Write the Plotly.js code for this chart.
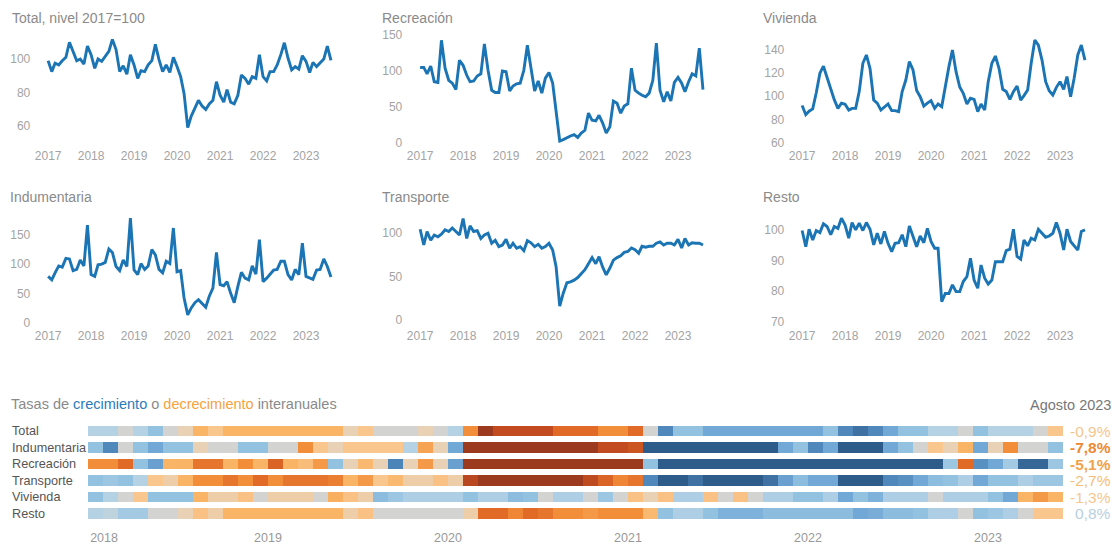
<!DOCTYPE html>
<html><head><meta charset="utf-8">
<script src="https://cdn.plot.ly/plotly-3.0.1.min.js"></script>
<style>html,body{margin:0;padding:0;background:#fff;}#chart{width:1112px;height:545px;}</style>
</head><body><div id="chart"></div>
<script>
// ---------- Monthly index series, Jan 2017 - Aug 2023 (nivel 2017=100) ----------
const total = [99,92.5,97.5,96.5,99,101,110,104,99,100,97,107.7,102.6,94.5,100,98.6,101.6,104.6,111.7,105.6,92.5,96,91,102.6,96.5,88.5,93,92.5,96.5,99,108.7,99.6,92.5,96.5,92,101,95.5,89.5,79.4,59.2,66,71,75.4,72,70,73.3,75.4,86.5,78.4,74.3,81.8,74.3,73.3,78.4,90.5,88.5,85,89.5,88.5,102.6,89.5,87,92.5,92.5,96.5,102.6,109.7,100.6,93.5,95.5,94,102,98.6,92,98,95.5,97.6,100,107.7,99.2];
const recreacion = [105,105,96,107,85,84,143,104,87,83,74,115,108,94,85,86,93,96,138,101,73,70,70,100,99,72,79,82,83,101,136,101,72,86,69,90,98,83,41,2,4,7,9,11,7,13,17,41,31,30,38,27,13,22,58,55,41,51,54,104,73,69,66,64,69,87,139,73,57,71,58,84,91,83,71,85,96,93,132,74];
const vivienda = [92,84,87,89,103,120,126,116,106,97,89.5,94,93,88,89.5,89.5,104,128.5,135.7,124,96.7,94,88,90.4,93.3,87.5,87.5,86.6,104,114,130,122.7,105,99.6,91.5,94,96.2,89.5,93.3,91,109.7,125.6,140,121,108,102.5,93.3,98.2,97.3,86.6,93.3,88,112.6,128.5,134.8,124,106,104,97.3,104,108.8,96.7,100.5,105.4,128.5,148.7,144.3,131.3,112.6,104.8,101,107.7,112.6,106,117,99.6,115.5,135.7,144.3,131.3];
const indumentaria = [79,73,85,97,95,110,109,89,91,107,97,167,82,79,99,100,103,126,120,96,89,107,96,179,90,82,101,91,97,125,116,91,85,105,101,162,87,89,42,13,25,34,39,32,26,45,59,120,65,63,70,50,34,62,86,76,73,97,83,142,70,76,83,90,91,105,105,82,73,91,82,136,79,76,74,90,91,109,96,78];
const transporte = [104.6,86.5,102,92,98,96,99,104,102,106,102,98,117,94,108.5,102,103,94,98,100,88.5,92,84.6,86.5,93,82.7,88.5,82.7,84.6,80,91.5,89,84.6,87.3,82.7,84.6,88.5,80.8,61.5,16,31,43,44,46,49,54,58,65,72,65,73,61,52,60,69,72,74,78,79,83,81,77,85,84,85,85,88.5,90,86.5,88.5,88.5,86.5,93,83,94,86.5,89,88.5,88.5,86.5];
const resto = [99.8,94.5,100.2,96.7,99.8,99.1,102,101.1,98.4,101.1,100.5,103.8,101.6,97.3,102.4,100,102.2,99.8,102.4,100.2,95.1,98.9,95.4,99.5,95.6,92.9,95.6,95.8,98.4,94.5,101.3,97.8,94.5,98,95.8,100.5,96.2,94,94,76.5,79.2,79.2,82,79.8,79.8,83.1,84.7,90.7,83.6,80.9,88.5,84.2,82.3,83.6,89.6,89.6,89.6,93.2,93.7,100.2,91.3,90.4,96.7,94.8,97.3,96.7,100.2,98.9,97.6,98,98.9,102.4,98.9,93.4,100.2,96.2,94.8,93.4,99.5,100];

const anios = ['2017','2018','2019','2020','2021','2022','2023'];

// ---------- Year-on-year growth rates (%) for the strip chart ----------
const rubros = ['Total','Indumentaria','Recreación','Transporte','Vivienda','Resto'];
const crecTotal = [3,3,0,3,7,0,-2,-9,-5,-9,-9,-9,-9,-9,-9,-9,-9,-2,-5,0,0,0,-2,0,3,-16,-60,-40,-40,-40,-40,-25,-25,-25,-16,-16,-25,0,20,7,7,12,12,12,12,12,12,12,12,7,20,30,20,12,7,7,3,3,0,7,3,3,3,0,-5];
const crecIndumentaria = [7,20,0,7,12,7,7,-2,0,0,7,7,0,0,-16,-5,-2,-5,-5,-5,-5,3,-12,-2,12,-60,-60,-60,-60,-60,-60,-60,-60,-60,-40,-40,-35,40,40,40,40,40,40,40,40,40,12,7,20,12,40,40,40,12,7,0,-5,-2,-9,12,-2,-16,0,0,7];
const crecRecreacion = [-16,-16,-25,7,14,-9,-9,-22,-22,-9,-16,-9,-28,-9,-7,-14,7,-2,-8,-2,22,-2,-14,-2,14,-60,-60,-60,-60,-60,-60,-60,-60,-60,-60,-60,-60,7,40,40,40,40,40,40,40,40,40,40,40,40,40,40,40,40,40,40,40,6,-25,18,12,5,35,35,6];
const crecTransporte = [7,6,7,3,-5,-3,-9,-16,-16,-22,-16,-25,-16,-22,-22,-22,-20,-9,-14,-5,-8,-3,-3,-6,-3,-45,-60,-60,-60,-60,-60,-60,-60,-42,-28,-18,-22,20,40,40,30,40,40,40,40,30,14,8,12,12,40,40,40,20,18,12,8,7,4,12,7,7,4,6,6];
const crecVivienda = [7,3,0,-5,7,7,7,-9,-3,-3,-6,0,-3,-3,-3,0,-10,-6,-3,8,6,4,4,4,4,7,4,4,8,7,0,4,4,0,6,0,-6,-2,-6,4,4,-6,0,-6,0,4,4,7,7,4,12,7,10,4,4,4,0,4,4,4,7,12,-9,-14,-9];
const crecResto = [3,2,5,5,0,0,-2,-6,-3,-9,-9,-9,-9,-9,-9,-9,-9,-3,-6,0,0,0,0,0,0,-3,-25,-25,-18,-25,-22,-16,-16,-14,-16,-16,-16,-8,7,4,4,7,10,10,10,8,8,8,8,8,8,12,11,8,8,7,4,4,0,7,6,4,0,-5,-5];
const tasasAgosto = ['-0,9%','-7,8%','-5,1%','-2,7%','-1,3%','0,8%'];
const aniosFranja = ['2018','2019','2020','2021','2022','2023'];

// ---------- styles ----------
const W = 1112, H = 545;
const FONT = 'Liberation Sans, Arial, sans-serif';
const LINE = '#1b74b3';
const TICK = '#a3a3a3';
const tasaColores = ['#f4c68f','#ec8a35','#f0a24c','#f5bd78','#f5c78f','#b8cfe0'];
const tasaPeso = [false,true,true,false,false,false];

const fechas = [];
for (let i = 0; i < total.length; i++) {
  const y = 2017 + Math.floor(i / 12), m = (i % 12) + 1;
  fechas.push(y + '-' + String(m).padStart(2, '0') + '-01');
}

const dx = (a, b) => [a / W, b / W];
const dy = (top, bot) => [1 - bot / H, 1 - top / H];

const cols = [[37.3, 341.8], [409.3, 713.8], [791.3, 1095.8]];
const rows = [[35, 143], [214, 322.5]];

const panels = [
  {name: 'Total, nivel 2017=100', y: total, col: 0, row: 0, range: [50, 114.3], ticks: [60, 80, 100], tx: 10},
  {name: 'Recreación', y: recreacion, col: 1, row: 0, range: [-0.8, 150.4], ticks: [0, 50, 100, 150], tx: 380},
  {name: 'Vivienda', y: vivienda, col: 2, row: 0, range: [59.5, 153], ticks: [60, 80, 100, 120, 140], tx: 761},
  {name: 'Indumentaria', y: indumentaria, col: 0, row: 1, range: [0, 186], ticks: [0, 50, 100, 150], tx: 8},
  {name: 'Transporte', y: transporte, col: 1, row: 1, range: [-2.8, 122.2], ticks: [0, 50, 100], tx: 380},
  {name: 'Resto', y: resto, col: 2, row: 1, range: [69.7, 105.2], ticks: [70, 80, 90, 100], tx: 761}
];

const data = [];
const layout = {
  width: W, height: H, margin: {l: 0, r: 0, t: 0, b: 0},
  paper_bgcolor: '#fff', plot_bgcolor: '#fff',
  font: {family: FONT, color: '#888'},
  showlegend: false, annotations: []
};

panels.forEach((p, i) => {
  const n = i + 1;
  const xa = 'xaxis' + (n === 1 ? '' : n), ya = 'yaxis' + (n === 1 ? '' : n);
  data.push({
    type: 'scatter', mode: 'lines', x: fechas, y: p.y,
    xaxis: 'x' + (n === 1 ? '' : n), yaxis: 'y' + (n === 1 ? '' : n),
    line: {color: LINE, width: 2.9}, hoverinfo: 'x+y'
  });
  layout[xa] = {
    domain: dx(cols[p.col][0], cols[p.col][1]), anchor: 'y' + (n === 1 ? '' : n),
    type: 'date', range: ['2016-10-01', '2023-11-01'],
    tickvals: anios.map(a => a + '-01-01'), ticktext: anios,
    showgrid: false, zeroline: false, showline: false, ticks: '',
    tickfont: {size: 12, color: TICK, family: FONT}, ticklabelstandoff: 4, fixedrange: true
  };
  layout[ya] = {
    domain: dy(rows[p.row][0], rows[p.row][1]), anchor: 'x' + (n === 1 ? '' : n),
    range: p.range, tickvals: p.ticks,
    showgrid: false, zeroline: false, showline: false, ticks: '',
    tickfont: {size: 12, color: TICK, family: FONT}, ticklabelstandoff: 6, fixedrange: true
  };
  layout.annotations.push({
    xref: 'paper', yref: 'paper', x: p.tx / W, y: 1 - (p.row === 0 ? 18 : 196.7) / H,
    xanchor: 'left', yanchor: 'middle', showarrow: false, text: p.name,
    font: {size: 14, color: '#8a8a8a', family: FONT}
  });
});

// ---------- strip chart ----------
const zHeat = [crecTotal, crecIndumentaria, crecRecreacion, crecTransporte, crecVivienda, crecResto];
const nMeses = crecTotal.length;
const idx = [];
for (let i = 0; i < nMeses; i++) idx.push(i);

data.push({
  type: 'heatmap', x: idx, y: rubros, z: zHeat, xaxis: 'x7', yaxis: 'y7',
  zmin: -60, zmax: 40, showscale: false, ygap: 6, xgap: 0,
  colorscale: [
    [0.00, '#9c3a20'], [0.20, '#c24c20'], [0.35, '#e06a26'], [0.44, '#f28e3a'],
    [0.51, '#f9b466'], [0.55, '#f9c68e'], [0.58, '#e9d1b6'], [0.60, '#d3d4d1'],
    [0.63, '#b5d2e5'], [0.67, '#93c2e1'], [0.72, '#72a8d5'], [0.80, '#5188bc'], [1.00, '#2d5c8a']
  ],
  hoverinfo: 'y+z'
});
layout.xaxis7 = {
  domain: dx(88, 1063), anchor: 'y7', range: [-0.5, nMeses - 0.5],
  tickvals: [0.57, 11.5, 23.5, 35.5, 47.5, 59.5], ticktext: aniosFranja,
  showgrid: false, zeroline: false, showline: false, ticks: '',
  tickfont: {size: 12.5, color: '#999', family: FONT}, ticklabelstandoff: 4, fixedrange: true
};
layout.yaxis7 = {
  domain: dy(420.7, 524), anchor: 'x7', type: 'category', autorange: 'reversed',
  showticklabels: false, showgrid: false, zeroline: false, showline: false, ticks: '', fixedrange: true
};

rubros.forEach((r, i) => {
  layout.annotations.push({
    xref: 'paper', yref: 'y7', x: 10 / W, y: r, xanchor: 'left', yanchor: 'middle',
    showarrow: false, text: r, font: {size: 12.7, color: '#555', family: FONT}
  });
  layout.annotations.push({
    xref: 'paper', yref: 'y7', x: 1113 / W, y: r, xanchor: 'right', yanchor: 'middle',
    showarrow: false, text: tasaPeso[i] ? '<b>' + tasasAgosto[i] + '</b>' : tasasAgosto[i],
    font: {size: 15.5, color: tasaColores[i], family: FONT}
  });
});

layout.annotations.push({
  xref: 'paper', yref: 'paper', x: 9 / W, y: 1 - 403.5 / H, xanchor: 'left', yanchor: 'middle',
  showarrow: false,
  text: 'Tasas de <span style="color:#2b7bb9">crecimiento</span> o <span style="color:#f4a340">decrecimiento</span> interanuales',
  font: {size: 14.5, color: '#8a8a8a', family: FONT}
});
layout.annotations.push({
  xref: 'paper', yref: 'paper', x: 1113 / W, y: 1 - 405 / H, xanchor: 'right', yanchor: 'middle',
  showarrow: false, text: 'Agosto 2023', font: {size: 14.5, color: '#777', family: FONT}
});

Plotly.newPlot('chart', data, layout, {displayModeBar: false, responsive: false});
</script>
</body></html>
